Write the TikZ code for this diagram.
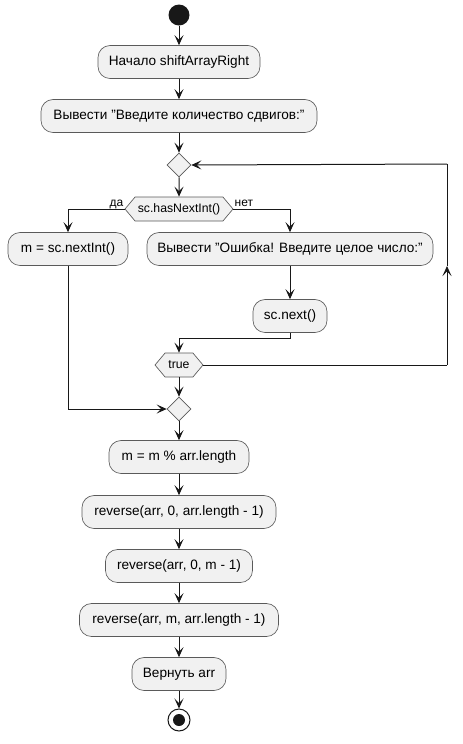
\documentclass[tikz,border=0pt]{standalone}
\usepackage{fontspec}
\setmainfont{Liberation Sans}
\usetikzlibrary{shapes.geometric,shapes.symbols,arrows.meta,calc}

\definecolor{boxfill}{HTML}{F1F1F1}
\definecolor{ink}{HTML}{181818}
\definecolor{rim}{HTML}{5A5A5A}

\begin{document}
\begin{tikzpicture}[x=0.75pt,y=-0.75pt,
  every node/.style={text=black},
  act/.style={draw=rim, line width=0.5pt, fill=boxfill, rounded corners=9pt,
    minimum height=33*0.75pt, inner xsep=3pt, inner ysep=0pt,
    font=\fontsize{10.2}{12}\selectfont},
  w/.style={minimum width=#1*0.75pt},
  cond/.style={draw=rim, line width=0.5pt, fill=boxfill, shape=signal,
    signal to=west and east, signal pointer angle=100,
    minimum height=24*0.75pt, inner xsep=0.5pt, inner ysep=0pt,
    font=\fontsize{9.2}{11}\selectfont},
  merge/.style={draw=rim, line width=0.5pt, fill=boxfill, diamond,
    minimum width=24*0.75pt, minimum height=24*0.75pt, inner sep=0pt},
  lbl/.style={font=\fontsize{9}{10}\selectfont, inner sep=0pt},
  flow/.style={draw=ink, line width=0.75pt,
    -{Stealth[length=7.5pt, width=6.75pt, inset=3.4pt]}},
  line/.style={draw=ink, line width=0.75pt}
]
\useasboundingbox (0,0) rectangle (463,744);

% start and first actions
\node[circle, fill=ink, minimum size=21*0.75pt, inner sep=0pt] (start) at (179,15) {};
\node[act, w=162] (begin) at (179,62) {Начало shiftArrayRight};
\node[act, w=276] (prompt) at (179,116) {Вывести \symbol{34}Введите количество сдвигов:\symbol{34}};
\node[merge] (m1) at (179,165) {};

% input loop
\node[cond, minimum width=108*0.75pt] (hasint) at (179,209) {sc.hasNextInt()};
\node[act, w=120] (readm) at (68,249) {m = sc.nextInt()};
\node[act, w=286] (err) at (290,249) {Вывести \symbol{34}Ошибка! Введите целое число:\symbol{34}};
\node[act, w=74] (skip) at (290,316) {sc.next()};
\node[cond, minimum width=48*0.75pt] (cont) at (179,365) {true};
\node[merge] (m2) at (179,409) {};

% rotation steps
\node[act, w=140] (mod) at (179,457) {m = m \% arr.length};
\node[act, w=194] (rev1) at (179,512) {reverse(arr, 0, arr.length - 1)};
\node[act, w=147] (rev2) at (179,566) {reverse(arr, 0, m - 1)};
\node[act, w=199] (rev3) at (179,620) {reverse(arr, m, arr.length - 1)};
\node[act, w=94] (ret) at (179,674) {Вернуть arr};

% end point
\node[circle, draw=ink, line width=0.75pt, fill=white, minimum size=22*0.75pt, inner sep=0pt] (stop) at (179,720) {};
\node[circle, fill=ink, minimum size=12*0.75pt, inner sep=0pt] at (stop) {};

% branch labels
\node[lbl, anchor=base east] at ($(hasint.west)+(-1,-3)$) {да};
\node[lbl, anchor=base west] at ($(hasint.east)+(1,-3)$) {нет};

% helper points
\coordinate (join) at (179,338);
\coordinate (loopA) at (447,365);
\coordinate (loopB) at (447,164);
\coordinate (loopMid) at (447,266);

% connectors
\draw[flow] (start) -- (begin);
\draw[flow] (begin) -- (prompt);
\draw[flow] (prompt) -- (m1);
\draw[flow] (m1) -- (hasint);
\draw[flow] (hasint.west) -| (readm.north);
\draw[flow] (hasint.east) -| (err.north);
\draw[flow] (err) -- (skip);
\draw[line] (skip.south) |- (join);
\draw[flow] (join) -- (cont.north);
\draw[line] (cont.east) -- (loopA);
\draw[flow] (loopA) -- (loopMid);
\draw[line] (loopMid) -- (loopB);
\draw[flow] (loopB) -- (m1.east);
\draw[flow] (cont.south) -- (m2.north);
\draw[flow] (readm.south) |- (m2.west);
\draw[flow] (m2) -- (mod);
\draw[flow] (mod) -- (rev1);
\draw[flow] (rev1) -- (rev2);
\draw[flow] (rev2) -- (rev3);
\draw[flow] (rev3) -- (ret);
\draw[flow] (ret) -- (stop);
\end{tikzpicture}
\end{document}
